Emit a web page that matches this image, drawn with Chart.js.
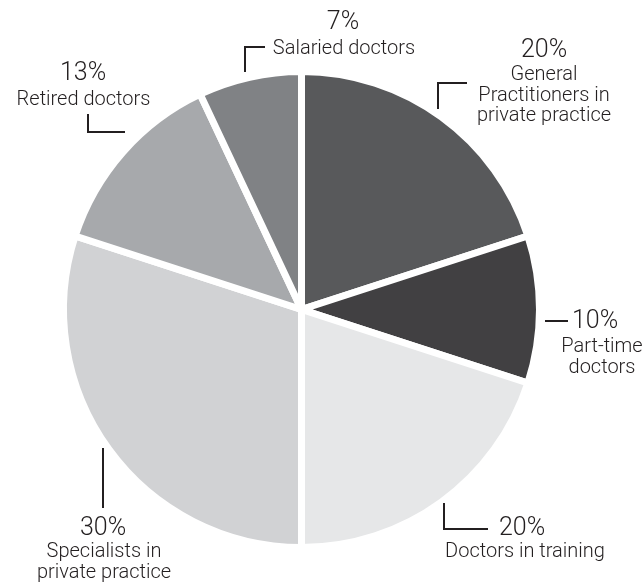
<!DOCTYPE html>
<html>
<head>
<meta charset="utf-8">
<script src="https://cdn.jsdelivr.net/npm/chart.js@4/dist/chart.umd.min.js"></script>
<style>
  html, body { margin: 0; padding: 0; background: #ffffff; }
  #wrap { width: 642px; height: 583px; position: relative; }
</style>
</head>
<body>
<div id="wrap"><canvas id="c" width="642" height="583"></canvas></div>
<script>
// ---- Data ----
const categories = [
  "General Practitioners in private practice",
  "Part-time doctors",
  "Doctors in training",
  "Specialists in private practice",
  "Retired doctors",
  "Salaried doctors"
];
const shares = [20, 10, 20, 30, 13, 7];
const labelLines = [
  ["General", "Practitioners in", "private practice"],
  ["Part-time", "doctors"],
  ["Doctors in training"],
  ["Specialists in", "private practice"],
  ["Retired doctors"],
  ["Salaried doctors"]
];

// ---- Styles ----
const sliceColors = ["#58595b", "#414042", "#e6e7e8", "#d1d2d4", "#a7a9ac", "#808285"];
const textColor = "#231f20";

// Label layout (reference pixel positions, relative to pie centre at 301.5, 309.5)
const refCenter = { x: 301.5, y: 309.5 };
const labelLayout = [
  { pct: [544, 57], lines: [544, 80], lead: [[438,109],[438,83],[467,83]] },
  { pct: [595, 328], lines: [602, 352], lead: [[545,321],[568,321]] },
  { pct: [522, 535], lines: [525, 557], lead: [[444,503],[444,529],[488,529]] },
  { pct: [103, 535], lines: [104, 557], lead: [[103,448],[103,508]] },
  { pct: [83, 80], lines: [83.5, 105], lead: [[88,114],[88,132],[125,132]] },
  { pct: [343, 29], lines: [344, 54], lead: [[245,72],[245,47],[265,47]] }
];

const labelPlugin = {
  id: 'sliceLabels',
  afterDraw(chart) {
    const ctx = chart.ctx;
    const meta = chart.getDatasetMeta(0);
    const arc0 = meta.data[0];
    const dx = arc0.x - refCenter.x, dy = arc0.y - refCenter.y;
    ctx.save();
    ctx.fillStyle = textColor;
    ctx.strokeStyle = textColor;
    ctx.lineWidth = 2;
    ctx.textAlign = 'center';
    ctx.textBaseline = 'alphabetic';
    labelLayout.forEach((L, i) => {
      // leader line
      ctx.beginPath();
      L.lead.forEach((p, k) => {
        const x = p[0] + dx, y = p[1] + dy;
        if (k === 0) ctx.moveTo(x, y); else ctx.lineTo(x, y);
      });
      ctx.lineCap = 'butt';
      ctx.lineJoin = 'miter';
      ctx.stroke();
      // percentage
      ctx.font = '300 25px Roboto';
      ctx.fillText(shares[i] + '%', L.pct[0] + dx, L.pct[1] + dy);
      // category lines
      ctx.font = '300 20px Roboto';
      labelLines[i].forEach((t, k) => {
        ctx.fillText(t, L.lines[0] + dx, L.lines[1] + dy + k * 20.5);
      });
    });
    ctx.restore();
  }
};

new Chart(document.getElementById('c'), {
  type: 'pie',
  data: {
    labels: categories,
    datasets: [{
      data: shares,
      backgroundColor: sliceColors,
      borderColor: '#ffffff',
      borderWidth: 7,
      hoverOffset: 0
    }]
  },
  options: {
    responsive: false,
    animation: false,
    radius: 238,
    layout: { padding: { left: 0, right: 39, top: 36, bottom: 0 } },
    plugins: {
      legend: { display: false },
      tooltip: { enabled: false }
    },
    events: []
  },
  plugins: [labelPlugin]
});
</script>
</body>
</html>
